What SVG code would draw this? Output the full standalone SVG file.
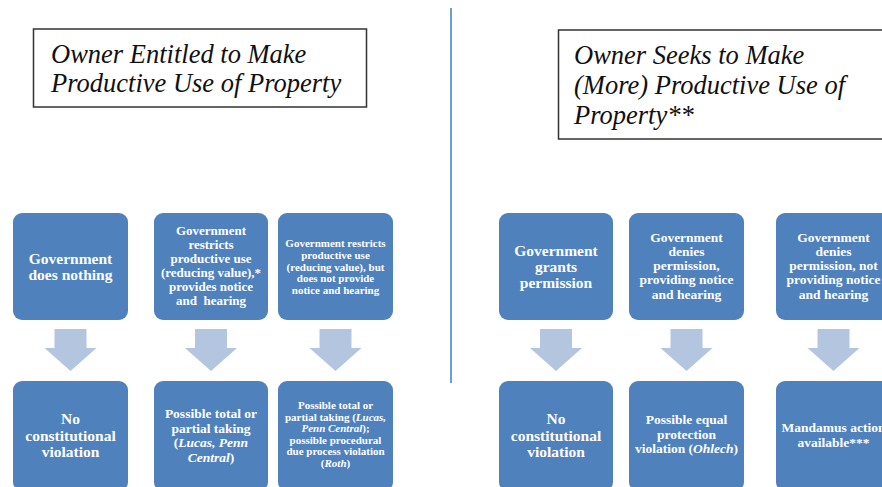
<svg xmlns="http://www.w3.org/2000/svg" width="882" height="487" viewBox="0 0 882 487">
<style>
.box{fill:#4f81bd;}
.arrow{fill:#b4c5e0;}
.t{font-family:"Liberation Serif","Times New Roman",serif;font-weight:bold;fill:#ffffff;text-anchor:middle;}
.title{font-family:"Liberation Serif","Times New Roman",serif;font-style:italic;fill:#111111;font-size:26.5px;}
.tbox{fill:#ffffff;stroke:#333333;stroke-width:1.5;}
.i{font-style:italic;}
</style>
<rect width="882" height="487" fill="#ffffff"/>
<line x1="451" y1="8" x2="451" y2="383" stroke="#6f9bd8" stroke-width="2"/>

<g id="title-left">
<rect class="tbox" x="33.5" y="29" width="333" height="78"/>
<text class="title"><tspan x="51" y="63">Owner Entitled to Make</tspan><tspan x="51" y="92">Productive Use of Property</tspan></text>
</g>
<g id="title-right">
<rect class="tbox" x="558.5" y="30" width="340" height="109"/>
<text class="title"><tspan x="574" y="64">Owner Seeks to Make</tspan><tspan x="574" y="94">(More) Productive Use of</tspan><tspan x="574" y="124">Property**</tspan></text>
</g>

<g id="connectors">
<path class="arrow" d="M54.5,329 h32 v19 h10 l-26,23 l-26,-23 h10 z"/>
<path class="arrow" d="M195,329 h32 v19 h10 l-26,23 l-26,-23 h10 z"/>
<path class="arrow" d="M319.5,329 h32 v19 h10 l-26,23 l-26,-23 h10 z"/>
<path class="arrow" d="M540,329 h32 v19 h10 l-26,23 l-26,-23 h10 z"/>
<path class="arrow" d="M670.5,329 h32 v19 h10 l-26,23 l-26,-23 h10 z"/>
<path class="arrow" d="M817.5,329 h32 v19 h10 l-26,23 l-26,-23 h10 z"/>
</g>

<g id="n1">
<rect class="box" x="13" y="213" width="115" height="107" rx="9"/>
<text class="t" font-size="15.5"><tspan x="70.5" y="264">Government</tspan><tspan x="70.5" y="280">does nothing</tspan></text>
</g>
<g id="n2">
<rect class="box" x="154" y="213" width="114" height="107" rx="9"/>
<text class="t" font-size="13" xml:space="preserve"><tspan x="211" y="235">Government</tspan><tspan x="211" y="249">restricts</tspan><tspan x="211" y="263">productive use</tspan><tspan x="211" y="277">(reducing value),*</tspan><tspan x="211" y="291">provides notice</tspan><tspan x="211" y="305">and  hearing</tspan></text>
</g>
<g id="n3">
<rect class="box" x="278" y="213" width="115" height="107" rx="9"/>
<text class="t" font-size="11"><tspan x="335.5" y="247">Government restricts</tspan><tspan x="335.5" y="258.8">productive use</tspan><tspan x="335.5" y="270.6">(reducing value), but</tspan><tspan x="335.5" y="282.4">does not provide</tspan><tspan x="335.5" y="294.2">notice and hearing</tspan></text>
</g>
<g id="n4">
<rect class="box" x="13" y="381" width="115" height="110" rx="9"/>
<text class="t" font-size="15.5"><tspan x="70.5" y="424">No</tspan><tspan x="70.5" y="441">constitutional</tspan><tspan x="70.5" y="457">violation</tspan></text>
</g>
<g id="n5">
<rect class="box" x="154" y="381" width="114" height="110" rx="9"/>
<text class="t" font-size="13.5"><tspan x="211" y="418">Possible total or</tspan><tspan x="211" y="432.5">partial taking</tspan><tspan x="211" y="447">(<tspan class="i">Lucas, Penn</tspan></tspan><tspan x="211" y="461.5"><tspan class="i">Central</tspan>)</tspan></text>
</g>
<g id="n6">
<rect class="box" x="278" y="381" width="115" height="110" rx="9"/>
<text class="t" font-size="11"><tspan x="335.5" y="409">Possible total or</tspan><tspan x="335.5" y="420.6">partial taking (<tspan class="i">Lucas,</tspan></tspan><tspan x="335.5" y="432.2"><tspan class="i">Penn Central</tspan>);</tspan><tspan x="335.5" y="443.8">possible procedural</tspan><tspan x="335.5" y="455.4">due process violation</tspan><tspan x="335.5" y="467">(<tspan class="i">Roth</tspan>)</tspan></text>
</g>

<g id="n7">
<rect class="box" x="499" y="213" width="114" height="107" rx="9"/>
<text class="t" font-size="15.5"><tspan x="556" y="256">Government</tspan><tspan x="556" y="272">grants</tspan><tspan x="556" y="288">permission</tspan></text>
</g>
<g id="n8">
<rect class="box" x="629" y="213" width="115" height="107" rx="9"/>
<text class="t" font-size="13.5"><tspan x="686.5" y="241.5">Government</tspan><tspan x="686.5" y="255.8">denies</tspan><tspan x="686.5" y="270">permission,</tspan><tspan x="686.5" y="284.3">providing notice</tspan><tspan x="686.5" y="298.6">and hearing</tspan></text>
</g>
<g id="n9">
<rect class="box" x="776" y="213" width="115" height="107" rx="9"/>
<text class="t" font-size="13.5"><tspan x="833.5" y="241.5">Government</tspan><tspan x="833.5" y="255.8">denies</tspan><tspan x="833.5" y="270">permission, not</tspan><tspan x="833.5" y="284.3">providing notice</tspan><tspan x="833.5" y="298.6">and hearing</tspan></text>
</g>
<g id="n10">
<rect class="box" x="499" y="381" width="114" height="110" rx="9"/>
<text class="t" font-size="15.5"><tspan x="556" y="424">No</tspan><tspan x="556" y="441">constitutional</tspan><tspan x="556" y="457">violation</tspan></text>
</g>
<g id="n11">
<rect class="box" x="629" y="381" width="115" height="110" rx="9"/>
<text class="t" font-size="13.5"><tspan x="686.5" y="424">Possible equal</tspan><tspan x="686.5" y="438.5">protection</tspan><tspan x="686.5" y="453">violation (<tspan class="i">Ohlech</tspan>)</tspan></text>
</g>
<g id="n12">
<rect class="box" x="776" y="381" width="115" height="110" rx="9"/>
<text class="t" font-size="13.5"><tspan x="833.5" y="432">Mandamus action</tspan><tspan x="833.5" y="447">available***</tspan></text>
</g>
</svg>
